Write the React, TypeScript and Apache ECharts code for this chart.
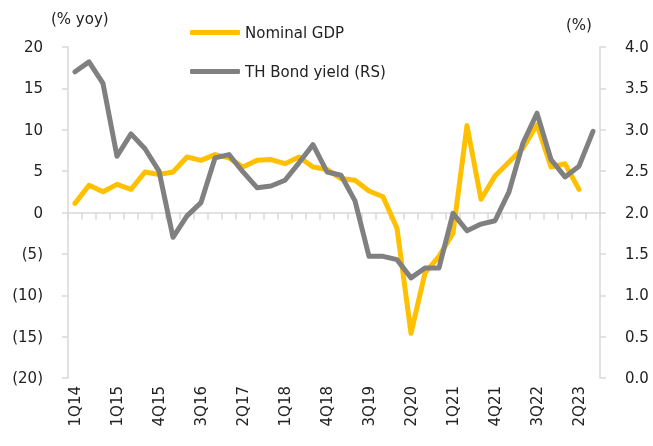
import React, { useEffect, useRef } from "react";
import * as echarts from "echarts";

const categories = [
  "1Q14", "3Q14", "4Q14",
  "1Q15", "2Q15", "3Q15", "4Q15",
  "1Q16", "2Q16", "3Q16", "4Q16",
  "1Q17", "2Q17", "3Q17", "4Q17",
  "1Q18", "2Q18", "3Q18", "4Q18",
  "1Q19", "2Q19", "3Q19", "4Q19",
  "1Q20", "2Q20", "3Q20", "4Q20",
  "1Q21", "2Q21", "3Q21", "4Q21",
  "1Q22", "2Q22", "3Q22", "4Q22",
  "1Q23", "2Q23", "3Q23",
];

const nominalGdp: (number | null)[] = [
  1.1, 3.3, 2.5, 3.4, 2.8, 4.9, 4.6, 4.9, 6.7, 6.3, 7.0, 6.6, 5.5, 6.3, 6.4,
  5.9, 6.7, 5.5, 5.2, 4.1, 3.9, 2.6, 1.9, -1.9, -14.6, -7.3, -5.3, -2.5, 10.5,
  1.6, 4.4, 6.1, 7.8, 10.6, 5.5, 5.9, 2.8, null,
];

const bondYield = [
  3.7, 3.82, 3.56, 2.68, 2.95, 2.77, 2.5, 1.7, 1.96, 2.12, 2.66, 2.7, 2.49,
  2.3, 2.32, 2.39, 2.6, 2.82, 2.49, 2.45, 2.14, 1.47, 1.47, 1.43, 1.21, 1.33,
  1.33, 1.99, 1.78, 1.86, 1.9, 2.25, 2.84, 3.2, 2.64, 2.43, 2.56, 2.98,
];

const leftTicks = { min: -20, max: 20, interval: 5 };
const rightTicks = { min: 0, max: 4, interval: 0.5 };

const FONT = "DejaVu Sans";
const TEXT = "#222222";
const AXIS = "#d9d9d9";
const FS = 15;

export default function App() {
  const ref = useRef<HTMLDivElement>(null);
  useEffect(() => {
    if (!ref.current) return;
    const chart = echarts.init(ref.current, undefined, { renderer: "svg" });
    chart.setOption({
      animation: false,
      textStyle: { fontFamily: FONT, color: TEXT },
      grid: { left: 68, right: 53, top: 47, bottom: 68, containLabel: false },
      legend: {
        orient: "vertical",
        left: 185,
        top: 20,
        itemWidth: 50,
        itemHeight: 5,
        itemGap: 24,
        icon: "roundRect",
        textStyle: { fontFamily: FONT, fontSize: FS, color: TEXT },
        data: ["Nominal GDP", "TH Bond yield (RS)"],
      },
      graphic: [
        {
          type: "text",
          left: 51,
          top: 11,
          style: { text: "(% yoy)", fontFamily: FONT, fontSize: FS, fill: TEXT },
        },
        {
          type: "text",
          left: 566,
          top: 17,
          style: { text: "(%)", fontFamily: FONT, fontSize: FS, fill: TEXT },
        },
      ],
      xAxis: [
        {
          type: "category",
          data: categories,
          position: "bottom",
          axisLine: { show: false, onZero: false },
          axisTick: { show: false },
          axisLabel: {
            rotate: 90,
            margin: 8,
            fontSize: FS,
            color: TEXT,
            fontFamily: FONT,
            interval: (i: number) => i % 3 === 0,
          },
        },
        {
          type: "category",
          data: categories,
          position: "bottom",
          axisLine: { show: true, onZero: true, onZeroAxisIndex: 0, lineStyle: { color: AXIS, width: 1.5 } },
          axisTick: { show: true, interval: 0, length: 7, lineStyle: { color: AXIS, width: 1.5 } },
          axisLabel: { show: false },
        },
      ],
      yAxis: [
        {
          type: "value",
          ...leftTicks,
          position: "left",
          splitLine: { show: false },
          axisLine: { show: true, lineStyle: { color: AXIS, width: 1.5 } },
          axisTick: { show: true, length: 6, lineStyle: { color: AXIS, width: 1.5 } },
          axisLabel: {
            margin: 25,
            fontSize: FS,
            color: TEXT,
            fontFamily: FONT,
            formatter: (v: number) => (v < 0 ? `(${-v})` : `${v}`),
          },
        },
        {
          type: "value",
          ...rightTicks,
          position: "right",
          splitLine: { show: false },
          axisLine: { show: true, lineStyle: { color: AXIS, width: 1.5 } },
          axisTick: { show: true, length: 6, lineStyle: { color: AXIS, width: 1.5 } },
          axisLabel: {
            margin: 25,
            fontSize: FS,
            color: TEXT,
            fontFamily: FONT,
            formatter: (v: number) => v.toFixed(1),
          },
        },
      ],
      series: [
        {
          name: "Nominal GDP",
          type: "line",
          xAxisIndex: 0,
          yAxisIndex: 0,
          data: nominalGdp,
          symbol: "none",
          color: "#FFC000",
          lineStyle: { width: 5, color: "#FFC000", cap: "round", join: "round" },
          z: 2,
        },
        {
          name: "TH Bond yield (RS)",
          type: "line",
          xAxisIndex: 0,
          yAxisIndex: 1,
          data: bondYield,
          symbol: "none",
          color: "#808080",
          lineStyle: { width: 5, color: "#808080", cap: "round", join: "round" },
          z: 3,
        },
      ],
    });
    return () => chart.dispose();
  }, []);
  return (
    <div
      ref={ref}
      style={{ position: "fixed", left: 0, top: 0, width: 653, height: 446 }}
    />
  );
}
